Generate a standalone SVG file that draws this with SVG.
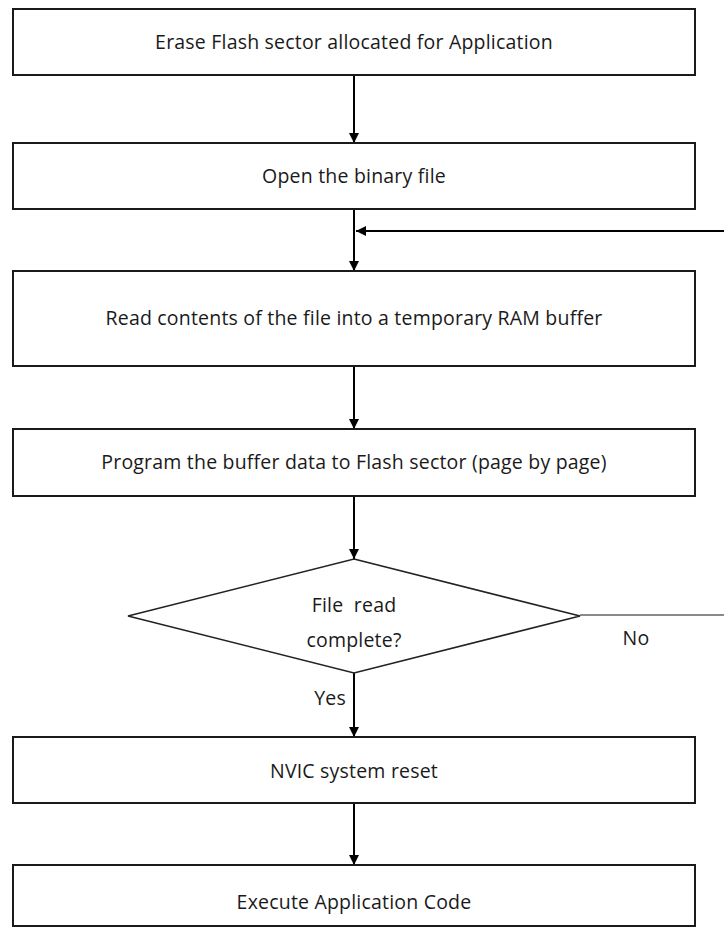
<svg xmlns="http://www.w3.org/2000/svg" width="724" height="928" viewBox="0 0 724 928">
  <defs>
    <marker id="arrow" viewBox="0 0 10 10" refX="10" refY="5" markerWidth="10" markerHeight="10" markerUnits="userSpaceOnUse" orient="auto">
      <path d="M0,0 L10,5 L0,10 Z" fill="#000"/>
    </marker>
    <style>
      .box { fill: #fff; stroke: #1a1a1a; stroke-width: 2; }
      .dec { fill: #fff; stroke: #222; stroke-width: 1.6; }
      .lbl { font-family: "Open Sans", "Liberation Sans", sans-serif; font-size: 19.5px; letter-spacing: 0.2px; fill: #1a1a1a; text-anchor: middle; white-space: pre; }
      .edge { fill: none; stroke: #000; stroke-width: 2; }
    </style>
  </defs>
  <rect width="724" height="928" fill="#fff"/>

  <g id="connectors">
    <line class="edge" x1="354" y1="75" x2="354" y2="143" marker-end="url(#arrow)"/>
    <line class="edge" x1="354" y1="209" x2="354" y2="271" marker-end="url(#arrow)"/>
    <line class="edge" x1="354" y1="366" x2="354" y2="429" marker-end="url(#arrow)"/>
    <line class="edge" x1="354" y1="496" x2="354" y2="559" marker-end="url(#arrow)"/>
    <line class="edge" x1="354" y1="673" x2="354" y2="737" marker-end="url(#arrow)"/>
    <line class="edge" x1="354" y1="803" x2="354" y2="865" marker-end="url(#arrow)"/>
    <!-- "No" branch loops back above the read step -->
    <path d="M580,615 H740" fill="none" stroke="#8a8a8a" stroke-width="2"/>
    <path class="edge" d="M740,615 V231 H356" marker-end="url(#arrow)"/>
    <text class="lbl" x="636" y="645">No</text>
    <text class="lbl" x="330" y="705">Yes</text>
  </g>

  <g id="erase">
    <rect class="box" x="13" y="9" width="682" height="66"/>
    <text class="lbl" x="354" y="49">Erase Flash sector allocated for Application</text>
  </g>
  <g id="open">
    <rect class="box" x="13" y="143" width="682" height="66"/>
    <text class="lbl" x="354" y="183">Open the binary file</text>
  </g>
  <g id="read">
    <rect class="box" x="13" y="271" width="682" height="95"/>
    <text class="lbl" x="354" y="325">Read contents of the file into a temporary RAM buffer</text>
  </g>
  <g id="program">
    <rect class="box" x="13" y="429" width="682" height="67"/>
    <text class="lbl" x="354" y="469">Program the buffer data to Flash sector (page by page)</text>
  </g>
  <g id="check">
    <polygon class="dec" points="354,559 580,616 354,673 128,616"/>
    <text class="lbl" x="354" y="612" xml:space="preserve">File  read</text>
    <text class="lbl" x="354" y="647">complete?</text>
  </g>
  <g id="reset">
    <rect class="box" x="13" y="737" width="682" height="66"/>
    <text class="lbl" x="354" y="778">NVIC system reset</text>
  </g>
  <g id="execute">
    <rect class="box" x="13" y="865" width="682" height="61"/>
    <text class="lbl" x="354" y="909">Execute Application Code</text>
  </g>
</svg>
